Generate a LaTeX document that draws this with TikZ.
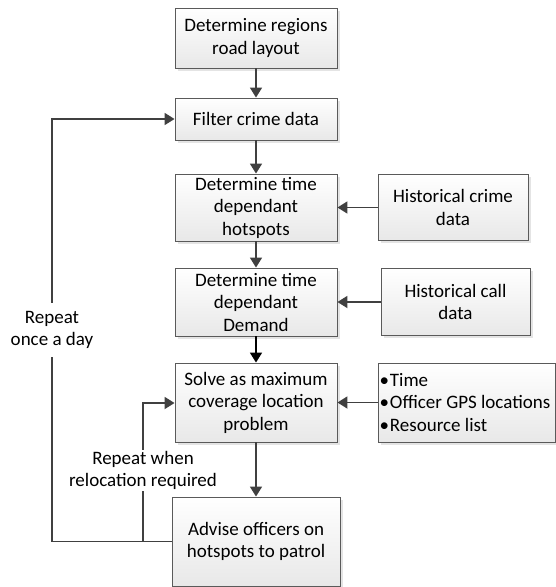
\documentclass[tikz,border=0pt]{standalone}
\usepackage{fontspec}
\setmainfont{Carlito}
\usetikzlibrary{arrows.meta,shadows}
\definecolor{lineC}{HTML}{404040}
\definecolor{boxC}{HTML}{5A5A5A}
\begin{document}
\begin{tikzpicture}[x=1pt,y=-1pt,
  font=\fontsize{19}{22.5}\selectfont,
  box/.style={draw=boxC, line width=0.9pt, top color=white, bottom color=gray!18,
    align=center, inner sep=1pt,
    drop shadow={shadow xshift=2.5pt, shadow yshift=-2.5pt, fill=gray!35, opacity=0.6}},
  conn/.style={draw=lineC, line width=1.8pt, -{Triangle[length=10pt,width=12pt]}},
  plain/.style={draw=lineC, line width=1.8pt},
  lbl/.style={fill=white, align=center, inner xsep=1pt}]
\useasboundingbox (0,0) rectangle (556,587);
\node[box, minimum width=162pt, minimum height=60pt] (b1) at (256,38) {Determine regions\\road layout};
\node[box, minimum width=162pt, minimum height=42pt] (b2) at (256,119) {Filter crime data};
\node[box, minimum width=162pt, minimum height=67pt] (b3) at (256,207.5) {Determine time\\dependant\\hotspots};
\node[box, minimum width=162pt, minimum height=68pt] (b4) at (256,302) {Determine time\\dependant\\Demand};
\node[box, minimum width=162pt, minimum height=79pt] (b5) at (256,402.5) {Solve as maximum\\coverage location\\problem};
\node[box, minimum width=168pt, minimum height=89pt] (b6) at (256,541.5) {Advise officers on\\hotspots to patrol};
\node[box, minimum width=150pt, minimum height=66pt] (hc) at (453,207.5) {Historical crime\\data};
\node[box, minimum width=149pt, minimum height=67pt] (hl) at (455.5,302) {Historical call\\data};
\node[box, minimum height=79pt, text width=174pt, align=flush left, inner xsep=1.5pt] (bl) at (466.5,402.5)
  {\textbullet\hspace{1pt}Time\\\textbullet\hspace{1pt}Officer GPS locations\\\textbullet\hspace{1pt}Resource list};

\draw[conn] (b1) -- (b2);
\draw[conn] (b2) -- (b3);
\draw[conn] (b3) -- (b4);
\draw[conn, draw=black] (b4) -- (b5);
\draw[conn] (b5) -- (b6);
\draw[conn] (hc.west) -- (hc.west -| b3.east);
\draw[conn] (hl.west) -- (hl.west -| b4.east);
\draw[conn] (bl.west) -- (bl.west -| b5.east);

\coordinate (oL) at (52,541.5);
\coordinate (oT) at (52,119);
\coordinate (iB) at (143,541.5);
\coordinate (iT) at (143,403);
\draw[plain] (b6.west) -- (oL);
\draw[conn] (oL) -- (oT) -- (b2.west);
\draw[conn] (iB) -- (iT) -- (iT -| b5.west);
\node[lbl, inner ysep=8pt] (l1) at (52,330) {Repeat\\once a day};
\node[lbl, inner ysep=1pt] (l2) at (143,470.5) {Repeat when\\relocation required};
\end{tikzpicture}
\end{document}
